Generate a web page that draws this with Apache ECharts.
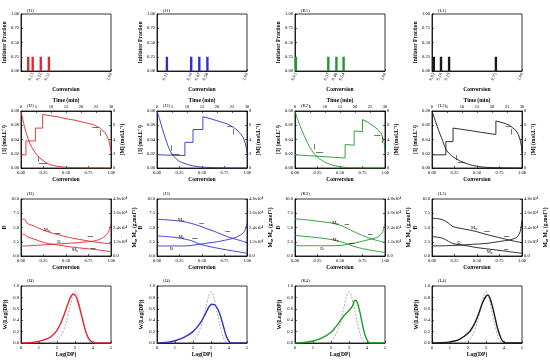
<!DOCTYPE html>
<html><head><meta charset="utf-8">
<script src="https://cdn.jsdelivr.net/npm/echarts@6/dist/echarts.min.js"></script>
<style>html,body{margin:0;padding:0;background:#fff}#c{width:550px;height:360px}</style>
</head><body><div id="c"></div>
<script>
// ---------- DATA ----------
const panelIds = ['I','J','K','L'];
const colors = ['#e8262f','#2f2fd0','#1f9a27','#1a1a1a'];

// Row 1: initiator addition (conversion, fraction)
const barsI = [0.08,0.13,0.22,0.31];
const barsJ = [0.11,0.38,0.47,0.56];
const barsK = [0.01,0.37,0.46,0.54];
const barsL = [0.02,0.10,0.19,0.71];
const barFraction = 0.25;

// Row 2: [I] vs conversion (step) and [M] vs time (decay)
const stepI = [[0,0.0185],[0.055,0.0185],[0.055,0.038],[0.16,0.038],[0.16,0.056],[0.24,0.056],[0.24,0.075],[0.4,0.072],[0.51,0.069],[0.6,0.067],[0.7,0.064],[0.8,0.061],[0.88,0.056],[0.93,0.05],[0.96,0.044],[0.98,0.037],[0.995,0.028],[1.0,0.022]];
const stepJ = [[0,0.0185],[0.31,0.0175],[0.31,0.036],[0.40,0.036],[0.40,0.054],[0.51,0.054],[0.51,0.072],[0.6,0.069],[0.7,0.065],[0.78,0.062],[0.85,0.057],[0.89,0.053],[0.93,0.048],[0.96,0.042],[0.98,0.035],[0.995,0.027],[1.0,0.021]];
const stepK = [[0,0.0185],[0.557,0.014],[0.557,0.033],[0.657,0.032],[0.657,0.052],[0.75,0.051],[0.75,0.068],[0.8,0.065],[0.88,0.058],[0.92,0.054],[0.95,0.05],[0.97,0.045],[0.99,0.037],[1.0,0.021]];
const stepL = [[0,0.0185],[0.154,0.0185],[0.154,0.037],[0.234,0.037],[0.234,0.056],[0.4,0.053],[0.55,0.05],[0.71,0.047],[0.71,0.066],[0.8,0.063],[0.86,0.06],[0.93,0.053],[0.96,0.047],[0.98,0.039],[0.995,0.03],[1.0,0.021]];
const monoI = [[0,8],[0.6,6.8],[1.2,5.7],[2,4.6],[3,3.4],[4.2,2.5],[5.4,1.8],[6.3,1.4],[7.8,0.9],[9.6,0.5],[12,0.25],[15.3,0.1],[21,0.03],[30,0]];
const monoJ = [[0,8],[0.9,6.8],[1.8,5.5],[2.7,4.3],[3.6,3.2],[4.5,2.3],[5.7,1.6],[7.2,1.0],[9,0.65],[12,0.3],[15,0.13],[21,0.03],[30,0]];
const monoK = [[0,8],[0.9,6.8],[1.8,5.8],[3,4.6],[4.2,3.5],[5.4,2.6],[6.6,1.9],[8.1,1.3],[9.6,0.9],[11.4,0.55],[13.5,0.3],[16.5,0.1],[21,0.02],[30,0]];
const monoL = [[0,8],[1.2,6.5],[2.2,5.3],[3.2,4.2],[4.1,3.2],[4.8,2.5],[5.8,2.0],[6.9,1.6],[9.3,1.0],[12.6,0.46],[16.8,0.14],[22,0.03],[30,0]];

// Row 3: dispersity (left) and Mw, Mn in g/mol (right)
const dispI = [[0,1.75],[0.1,1.8],[0.2,1.9],[0.3,2.0],[0.4,2.1],[0.5,2.2],[0.6,2.3],[0.7,2.45],[0.8,2.6],[0.87,2.9],[0.92,3.3],[0.96,3.9],[0.98,4.5],[1.0,5.8]];
const mwI = [[0,31060],[0.037,31060],[0.066,27650],[0.1,26400],[0.14,25440],[0.2,23280],[0.27,21120],[0.35,19200],[0.42,17760],[0.5,16320],[0.58,14880],[0.7,13300],[0.8,12000],[0.9,11040],[1.0,10080]];
const mnI = [[0,18340],[0.037,18340],[0.066,16320],[0.14,14400],[0.27,11040],[0.42,9120],[0.6,7200],[0.8,5620],[1.0,3700]];
const dispJ = [[0,1.76],[0.31,1.76],[0.4,1.9],[0.49,2.1],[0.58,2.3],[0.67,2.5],[0.75,2.75],[0.82,3.0],[0.88,3.3],[0.93,3.7],[0.96,4.1],[0.98,4.6],[1.0,5.8]];
const mwJ = [[0,31060],[0.1,30480],[0.23,29660],[0.34,28220],[0.42,26640],[0.49,24860],[0.56,22800],[0.64,20590],[0.71,18480],[0.78,16370],[0.86,14400],[0.93,12960],[1.0,11280]];
const mnJ = [[0,16940],[0.15,16080],[0.27,14880],[0.38,12960],[0.44,11040],[0.49,9600],[0.56,8400],[0.64,7060],[0.78,5090],[0.9,3600],[1.0,2260]];
const dispK = [[0,1.8],[0.3,1.8],[0.5,1.85],[0.6,2.1],[0.7,2.4],[0.8,2.8],[0.9,3.2],[0.96,3.9],[0.98,4.5],[1.0,5.8]];
const mwK = [[0,31200],[0.1,30700],[0.2,29800],[0.3,28800],[0.4,27840],[0.5,25900],[0.55,24480],[0.6,22560],[0.65,20640],[0.7,18960],[0.75,17280],[0.85,14400],[0.93,12720],[1.0,11520]];
const mnK = [[0,17280],[0.2,15840],[0.4,13920],[0.55,11040],[0.65,8160],[0.75,6240],[0.85,4800],[1.0,2880]];
const dispL = [[0,1.76],[0.15,1.8],[0.3,1.9],[0.45,2.05],[0.6,2.2],[0.67,2.35],[0.75,2.55],[0.86,2.8],[0.92,3.1],[0.95,3.4],[0.98,4.3],[1.0,6.3]];
const mwL = [[0,31920],[0.06,31440],[0.12,30480],[0.18,27840],[0.23,24860],[0.3,23520],[0.4,22080],[0.49,20640],[0.6,18240],[0.7,16320],[0.78,14880],[0.9,12720],[1.0,11280]];
const mnL = [[0,16320],[0.06,15840],[0.12,14880],[0.18,12480],[0.23,10560],[0.3,9600],[0.4,8400],[0.49,7200],[0.6,6100],[0.71,5090],[0.85,3740],[1.0,2260]];

// Row 4: chain length distributions, W(Log(DP)) vs Log(DP)
const distRef = [[1.6,0],[1.8,0.01],[2.0,0.04],[2.2,0.11],[2.4,0.25],[2.6,0.47],[2.8,0.74],[2.9,0.85],[3.0,0.9],[3.1,0.86],[3.2,0.74],[3.4,0.45],[3.6,0.18],[3.75,0.05],[3.9,0]];
const distI = [[0,0],[0.5,0.005],[1.0,0.03],[1.5,0.08],[1.8,0.15],[2.0,0.22],[2.2,0.34],[2.4,0.5],[2.6,0.68],[2.75,0.8],[2.9,0.86],[3.05,0.82],[3.2,0.68],[3.4,0.44],[3.6,0.2],[3.8,0.06],[4.0,0.01],[4.2,0],[5,0]];
const distJ = [[0,0],[0.5,0.01],[1.0,0.04],[1.5,0.1],[2.0,0.2],[2.4,0.35],[2.7,0.52],[2.9,0.64],[3.05,0.68],[3.2,0.67],[3.4,0.58],[3.55,0.45],[3.7,0.28],[3.85,0.12],[4.0,0.03],[4.1,0],[5,0]];
const distK = [[0,0],[0.5,0.01],[1.0,0.035],[1.5,0.09],[2.0,0.19],[2.4,0.34],[2.7,0.47],[3.0,0.57],[3.2,0.65],[3.33,0.75],[3.45,0.72],[3.6,0.55],[3.75,0.32],[3.9,0.13],[4.05,0.03],[4.2,0],[5,0]];
const distL = [[0,0],[0.5,0.005],[1.0,0.02],[1.5,0.06],[2.0,0.17],[2.3,0.3],[2.6,0.52],[2.8,0.7],[3.0,0.82],[3.1,0.84],[3.25,0.76],[3.45,0.52],[3.65,0.25],[3.85,0.07],[4.0,0.01],[4.1,0],[5,0]];

const bars = [barsI,barsJ,barsK,barsL];
const steps = [stepI,stepJ,stepK,stepL];
const monos = [monoI,monoJ,monoK,monoL];
const disps = [dispI,dispJ,dispK,dispL];
const mws = [mwI,mwJ,mwK,mwL];
const mns = [mnI,mnJ,mnK,mnL];
const dists = [distI,distJ,distK,distL];

// ---------- ANNOTATIONS (curve labels and axis-pointing arrows, in data units) ----------
const row2Arrows = [
  {mono:[[[5.7,0.9],[5.7,1.6]],[[6.0,0.6],[8.7,0.6]]], step:[[[0.86,0.057],[0.79,0.057]],[[0.875,0.053],[0.875,0.045]]]},
  {mono:[[[4.6,2.4],[4.6,3.2]],[[4.9,1.9],[7.5,1.9]]], step:[[[0.84,0.058],[0.78,0.058]],[[0.85,0.055],[0.85,0.047]]]},
  {mono:[[[6.4,2.6],[6.4,3.4]],[[7.0,2.2],[9.4,2.2]]], step:[[[0.95,0.046],[0.88,0.046]],[[0.965,0.043],[0.965,0.035]]]},
  {mono:[[[8.1,1.1],[8.1,1.8]],[[8.6,0.75],[11,0.75]]], step:[[[0.88,0.058],[0.82,0.058]],[[0.885,0.055],[0.885,0.047]]]}
];
const row3Labels = [
  {mw:[0.29,22500], d:[0.42,2.5], mn:[0.6,5200]},
  {mw:[0.27,30600], d:[0.16,1.3], mn:[0.27,16400]},
  {mw:[0.45,28300], d:[0.3,1.3], mn:[0.45,13800]},
  {mw:[0.47,23600], d:[0.3,2.3], mn:[0.64,3800]}
];
const row3Arrows = [
  {mw:[[0.38,19400],[0.44,19400]], d:[[0.80,3.4],[0.74,3.4]], mn:[[0.77,6300],[0.83,6300]]},
  {mw:[[0.47,27600],[0.52,27600]], d:[[0.81,4.3],[0.76,4.3]], mn:[[0.39,15200],[0.45,15200]]},
  {mw:[[0.55,26500],[0.6,26500]], d:[[0.86,3.9],[0.81,3.9]], mn:[[0.6,11000],[0.66,11000]]},
  {mw:[[0.58,20900],[0.64,20900]], d:[[0.86,3.4],[0.8,3.4]], mn:[[0.8,5900],[0.85,5900]]}
];

// ---------- LAYOUT ----------
const F = 'Liberation Serif';
const colLeft = [21,157,295,432];
const colW = 90;
const rowTop = [14,111,199,286];
const rowH = 57;
const tickFont = 4.6, nameFont = 5.6;

const grids=[], xAxes=[], yAxes=[], series=[], titles=[];
function merge(a,b){const o=Object.assign({},a);for(const k in b){if(b[k]&&typeof b[k]==='object'&&!Array.isArray(b[k])&&typeof o[k]==='object'&&!Array.isArray(o[k]))o[k]=merge(o[k],b[k]);else o[k]=b[k];}return o;}
const base = {
  type:'value', nameLocation:'middle',
  axisLine:{show:true,onZero:false,lineStyle:{color:'#000',width:0.8}},
  axisTick:{show:true,inside:true,length:2,lineStyle:{color:'#000',width:0.6}},
  splitLine:{show:false},
  axisLabel:{fontSize:tickFont,color:'#000',fontFamily:F,margin:2},
  nameTextStyle:{fontSize:nameFont,fontWeight:'bold',color:'#000',fontFamily:F,
    rich:{m:{fontSize:nameFont,fontWeight:'bold',fontFamily:F,color:'#000'},s:{fontSize:3.8,fontWeight:'bold',fontFamily:F,color:'#000',padding:[3,0,0,0]}}}
};
function X(o){xAxes.push(merge(base,o));return xAxes.length-1;}
function Y(o){yAxes.push(merge(base,o));return yAxes.length-1;}
const f2 = v=>v.toFixed(2), f1 = v=>v.toFixed(1);
const labelRich = {m:{fontSize:4.6,fontFamily:F,color:'#000'},s:{fontSize:3.4,fontFamily:F,color:'#000',padding:[3,0,0,0]}};
function arrows(list){
  return {silent:true,symbol:['none','arrow'],symbolSize:[0,[3,3.6]],animation:false,
    lineStyle:{color:'#000',width:0.55,type:'solid'},label:{show:false},
    data:list.map(s=>[{coord:s[0]},{coord:s[1]}])};
}
function textMark(coord,txt){
  return {symbol:'circle',symbolSize:0,silent:true,
    label:{show:true,position:'inside',formatter:txt,rich:labelRich,fontSize:4.6,fontFamily:F,color:'#000'},
    data:[{coord:coord}]};
}

for(let r=0;r<4;r++){
  for(let c=0;c<4;c++){
    const g = grids.length;
    grids.push({left:colLeft[c],top:rowTop[r],width:colW,height:rowH,show:true,borderColor:'#000',borderWidth:0.8,backgroundColor:'transparent'});
    titles.push({text:'('+panelIds[c]+(r+1)+')',left:colLeft[c]+1,top:rowTop[r]-(r===0?11:13),textStyle:{fontSize:4.6,fontWeight:'normal',fontFamily:F,color:'#000'}});
    const col = colors[c];
    if(r===0){
      const cv = bars[c].concat([1]);
      const xa = X({gridIndex:g,min:0,max:1,name:'Conversion',nameGap:16,
        axisLabel:{customValues:cv,rotate:65,formatter:f2},axisTick:{customValues:cv}});
      const ya = Y({gridIndex:g,min:0,max:1,interval:0.25,name:'Initiator Fraction',nameGap:13,axisLabel:{formatter:f2}});
      series.push({type:'bar',xAxisIndex:xa,yAxisIndex:ya,barWidth:2.4,itemStyle:{color:col},
        data:bars[c].map(v=>[v,barFraction])});
    } else if(r===1){
      const xb = X({gridIndex:g,min:0,max:1,interval:0.25,name:'Conversion',nameGap:9,axisLabel:{formatter:f2}});
      const xt = X({gridIndex:g,position:'top',min:0,max:30,interval:5,name:'Time (min)',nameGap:7});
      const yl = Y({gridIndex:g,min:0,max:0.08,interval:0.02,name:'[I] (mol.L⁻¹)',nameGap:13,axisLabel:{formatter:f2}});
      const yr = Y({gridIndex:g,position:'right',min:0,max:8,interval:2,name:'[M] (mol.L⁻¹)',nameGap:8});
      series.push({type:'line',xAxisIndex:xb,yAxisIndex:yl,data:steps[c],showSymbol:false,lineStyle:{color:col,width:0.9},
        markLine:arrows(row2Arrows[c].step)});
      series.push({type:'line',xAxisIndex:xt,yAxisIndex:yr,data:monos[c],showSymbol:false,smooth:0.3,lineStyle:{color:col,width:0.9},
        markLine:arrows(row2Arrows[c].mono)});
    } else if(r===2){
      const xb = X({gridIndex:g,min:0,max:1,interval:0.25,name:'Conversion',nameGap:9,axisLabel:{formatter:f2}});
      const yl = Y({gridIndex:g,min:0,max:10,interval:2.5,name:'Đ',nameGap:11,axisLabel:{formatter:f1}});
      const yr = Y({gridIndex:g,position:'right',min:0,max:48000,interval:12000,nameGap:16,
        name:'{m|M}{s|n}{m|, M}{s|w}{m| (g.mol⁻¹)}',
        axisLabel:{formatter:v=>v===0?'0.0':(v/10000).toFixed(1)+'x10⁴'}});
      const L = row3Labels[c], A = row3Arrows[c];
      series.push({type:'line',xAxisIndex:xb,yAxisIndex:yl,data:disps[c],showSymbol:false,smooth:0.3,lineStyle:{color:col,width:0.9},
        markPoint:textMark(L.d,'{m|Đ}'),markLine:arrows([A.d])});
      series.push({type:'line',xAxisIndex:xb,yAxisIndex:yr,data:mws[c],showSymbol:false,smooth:0.3,lineStyle:{color:col,width:0.9},
        markPoint:textMark(L.mw,'{m|M}{s|w}'),markLine:arrows([A.mw])});
      series.push({type:'line',xAxisIndex:xb,yAxisIndex:yr,data:mns[c],showSymbol:false,smooth:0.3,lineStyle:{color:col,width:0.9},
        markPoint:textMark(L.mn,'{m|M}{s|n}'),markLine:arrows([A.mn])});
    } else {
      const xb = X({gridIndex:g,min:0,max:5,interval:1,name:'Log(DP)',nameGap:9});
      const yl = Y({gridIndex:g,min:0,max:1,interval:0.2,name:'W(Log(DP))',nameGap:12,axisLabel:{formatter:f1}});
      series.push({type:'line',xAxisIndex:xb,yAxisIndex:yl,data:distRef,showSymbol:false,smooth:0.4,lineStyle:{color:'#8a8a8a',width:0.7,type:[2,1.5]}});
      series.push({type:'line',xAxisIndex:xb,yAxisIndex:yl,data:dists[c],showSymbol:false,smooth:0.4,lineStyle:{color:col,width:1.4}});
    }
  }
}

const chart = echarts.init(document.getElementById('c'),null,{renderer:'canvas'});
chart.setOption({animation:false,backgroundColor:'#fff',title:titles,grid:grids,xAxis:xAxes,yAxis:yAxes,series:series});
</script></body></html>
